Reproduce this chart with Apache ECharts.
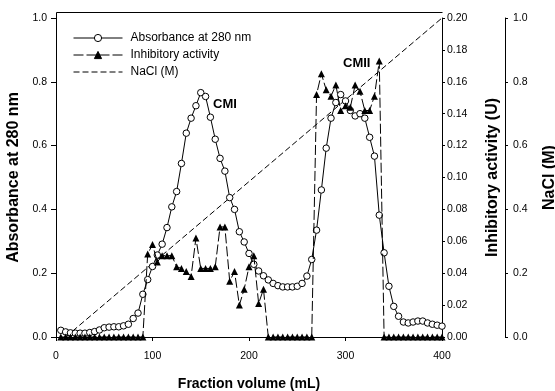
<!DOCTYPE html>
<html><head><meta charset="utf-8">
<script src="https://cdn.jsdelivr.net/npm/echarts@6/dist/echarts.min.js"></script>
<style>html,body{margin:0;padding:0;background:#fff}#c{width:555px;height:391px}</style>
</head><body><div id="c"></div>
<script>
// Fraction volume (mL) of each collected fraction
const volumes = [5,10,15,20,25,30,35,40,45,50,55,60,65,70,75,80,85,90,95,100,
  105,110,115,120,125,130,135,140,145,150,155,160,165,170,175,180,185,190,195,200,
  205,210,215,220,225,230,235,240,245,250,255,260,265,270,275,280,285,290,295,300,
  305,310,315,320,325,330,335,340,345,350,355,360,365,370,375,380,385,390,395,400];
// Absorbance at 280 nm
const absorbance = [0.021,0.016,0.013,0.012,0.012,0.012,0.014,0.017,0.022,0.029,
  0.031,0.032,0.032,0.035,0.040,0.058,0.075,0.134,0.180,0.221,
  0.257,0.291,0.343,0.408,0.456,0.544,0.639,0.686,0.725,0.766,
  0.754,0.689,0.620,0.560,0.520,0.437,0.400,0.330,0.298,0.262,
  0.228,0.207,0.192,0.179,0.168,0.161,0.157,0.157,0.157,0.159,
  0.168,0.191,0.243,0.335,0.461,0.592,0.686,0.735,0.760,0.740,
  0.710,0.693,0.700,0.686,0.626,0.567,0.382,0.264,0.159,0.096,
  0.065,0.047,0.044,0.047,0.050,0.050,0.044,0.040,0.037,0.034];
// Inhibitory activity (U)
const inhibitory = [0,0,0,0,0,0,0,0,0,0,0,0,0,0,0,0,0,0,0.052,0.058,
  0.047,0.051,0.051,0.051,0.044,0.043,0.041,0.038,0.062,0.043,
  0.043,0.043,0.044,0.069,0.069,0.035,0.041,0.020,0.030,0.044,
  0.051,0.021,0.030,0,0,0,0,0,0,0,
  0,0,0,0.152,0.165,0.155,0.151,0.158,0.142,0.145,
  0.144,0.158,0.154,0.142,0.142,0.151,0.173,0,0,0,
  0,0,0,0,0,0,0,0,0,0];
// NaCl gradient (M)
const naclVolumes = [10, 400];
const naclValues = [0, 1.0];
// Axis ticks
const xTicks = [0, 100, 200, 300, 400];
const absTicks = [0, 0.2, 0.4, 0.6, 0.8, 1.0];
const actTicks = [0, 0.02, 0.04, 0.06, 0.08, 0.10, 0.12, 0.14, 0.16, 0.18, 0.20];
const naclTicks = [0, 0.2, 0.4, 0.6, 0.8, 1.0];

const pair = (xs, ys) => xs.map((x, i) => [x, ys[i]]);
const font = '"Liberation Sans",Arial,sans-serif';
const black = '#000';

const chart = echarts.init(document.getElementById('c'), null, {renderer: 'canvas'});
const axisLabelBase = {color: black, fontFamily: font, fontSize: 10.5};
chart.setOption({
  animation: false,
  backgroundColor: '#fff',
  grid: {left: 56, right: 113, top: 18, bottom: 54, containLabel: false, outerBoundsMode: 'none'},
  legend: {
    left: 68, top: 27, orient: 'vertical', itemWidth: 49, itemHeight: 9, itemGap: 5,
    lineStyle: {width: 1},
    itemStyle: {borderWidth: 1},
    textStyle: {color: black, fontFamily: font, fontSize: 12, padding: [0, 0, 0, 3]},
    data: ['Absorbance at 280 nm', 'Inhibitory activity',
      {name: 'NaCl (M)', itemStyle: {opacity: 0}}]
  },
  xAxis: {
    type: 'value', min: xTicks[0], max: xTicks[xTicks.length - 1], interval: 100, offset: 2,
    name: 'Fraction volume (mL)', nameLocation: 'middle', nameGap: 38,
    nameTextStyle: {color: black, fontFamily: font, fontSize: 14, fontWeight: 'bold'},
    axisLine: {lineStyle: {color: black, width: 1}},
    axisTick: {length: 4, lineStyle: {color: black}},
    axisLabel: Object.assign({margin: 12, formatter: v => String(v)}, axisLabelBase),
    splitLine: {show: false}
  },
  yAxis: [{
    type: 'value', position: 'left', min: absTicks[0], max: absTicks[absTicks.length - 1], interval: 0.2,
    name: 'Absorbance at 280 nm', nameLocation: 'middle', nameGap: 20,
    nameTextStyle: {color: black, fontFamily: font, fontSize: 16, fontWeight: 'bold'},
    axisLine: {show: true, lineStyle: {color: black, width: 1}},
    axisTick: {show: true, length: 5, lineStyle: {color: black}},
    axisLabel: Object.assign({margin: 9, formatter: v => v.toFixed(1)}, axisLabelBase),
    splitLine: {show: false}
  }, {
    type: 'value', position: 'right', min: actTicks[0], max: actTicks[actTicks.length - 1], interval: 0.02,
    name: 'Inhibitory activity (U)', nameLocation: 'middle', nameGap: 43,
    nameTextStyle: {color: black, fontFamily: font, fontSize: 16, fontWeight: 'bold'},
    axisLine: {show: true, lineStyle: {color: black, width: 1}},
    axisTick: {show: true, length: 3, lineStyle: {color: black}},
    axisLabel: Object.assign({margin: 5, formatter: v => v.toFixed(2)}, axisLabelBase),
    splitLine: {show: false}
  }, {
    type: 'value', position: 'right', offset: 63, min: naclTicks[0], max: naclTicks[naclTicks.length - 1], interval: 0.2,
    name: 'NaCl (M)', nameLocation: 'middle', nameGap: 37,
    nameTextStyle: {color: black, fontFamily: font, fontSize: 16, fontWeight: 'bold'},
    axisLine: {show: true, lineStyle: {color: black, width: 1}},
    axisTick: {show: true, length: 3, lineStyle: {color: black}},
    axisLabel: Object.assign({margin: 8, formatter: v => v.toFixed(1)}, axisLabelBase),
    splitLine: {show: false}
  }],
  series: [{
    name: 'Absorbance at 280 nm', type: 'line', yAxisIndex: 0,
    data: pair(volumes, absorbance),
    symbol: 'circle', symbolSize: 6.5, showAllSymbol: true,
    lineStyle: {color: black, width: 1},
    itemStyle: {color: '#fff', borderColor: black, borderWidth: 1},
    z: 3
  }, {
    name: 'Inhibitory activity', type: 'line', yAxisIndex: 1,
    data: pair(volumes, inhibitory),
    symbol: 'triangle', symbolSize: 7, showAllSymbol: true,
    lineStyle: {color: black, width: 1, type: [10, 3]},
    itemStyle: {color: black, borderColor: black, borderWidth: 0},
    z: 4
  }, {
    name: 'NaCl (M)', type: 'line', yAxisIndex: 2,
    data: pair(naclVolumes, naclValues),
    symbol: 'none',
    lineStyle: {color: black, width: 1, type: [6, 3]},
    itemStyle: {color: black},
    z: 2
  }],
  graphic: [{
    type: 'polyline', silent: true,
    shape: {points: [[56.5, 339.5], [56.5, 12.5], [442.5, 12.5]]},
    style: {stroke: black, lineWidth: 1, fill: null}
  }, {
    type: 'text', silent: true,
    style: {text: 'CMI', x: 213, y: 104, verticalAlign: 'middle', font: 'bold 13px "Liberation Sans", Arial', fill: black}
  }, {
    type: 'text', silent: true,
    style: {text: 'CMII', x: 343, y: 63, verticalAlign: 'middle', font: 'bold 13px "Liberation Sans", Arial', fill: black}
  }]
});
</script>
</body></html>
